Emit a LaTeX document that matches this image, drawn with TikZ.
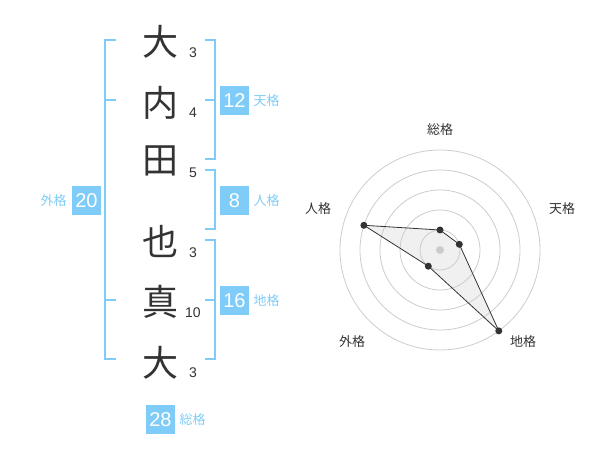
\documentclass[tikz,border=0pt]{standalone}
\usepackage{fontspec}
\setmainfont{Liberation Sans}
\newfontfamily\jp{Noto Sans CJK JP}
\definecolor{sky}{HTML}{80CCF8}
\definecolor{ink}{HTML}{333333}
\definecolor{ring}{HTML}{CCCCCC}
\definecolor{polyfill}{HTML}{F0F0F0}
\begin{document}
\begin{tikzpicture}[x=1pt,y=-1pt,
  kanji/.style={inner sep=0pt,text=ink,font=\jp\fontsize{36}{36}\selectfont},
  strokes/.style={inner sep=0pt,text=ink,font=\fontsize{14}{14}\selectfont},
  bracket/.style={draw=sky,line width=2pt},
  numbox/.style={fill=sky,text=white,minimum width=29pt,minimum height=29pt,inner sep=0pt,font=\fontsize{20}{20}\selectfont},
  kakulabel/.style={inner sep=0pt,text=sky,font=\jp\fontsize{13}{13}\selectfont},
  axislabel/.style={inner sep=0pt,text=ink,font=\jp\fontsize{13}{13}\selectfont},
  ringline/.style={draw=ring,line width=0.8pt},
  dot/.style={circle,fill=ink,minimum size=7pt,inner sep=0pt},
  polyline/.style={draw=ink,line width=0.8pt,line join=round}]
\useasboundingbox (0,0) rectangle (600,470);

% name characters
\node[kanji] (c1) at (160,42) {大};
\node[kanji] (c2) at (160,103) {内};
\node[kanji] (c3) at (160,161) {田};
\node[kanji] (c4) at (160,241) {也};
\node[kanji] (c5) at (160,302) {真};
\node[kanji] (c6) at (160,363) {大};

% stroke counts
\node[strokes] (s1) at (193,53) {3};
\node[strokes] (s2) at (193,113) {4};
\node[strokes] (s3) at (193,173) {5};
\node[strokes] (s4) at (193,253) {3};
\node[strokes] (s5) at (193,313) {10};
\node[strokes] (s6) at (193,373) {3};

% 外格 bracket
\draw[bracket] (116,40) -- (105,40) -- (105,359) -- (116,359);
\draw[bracket] (105,100) -- (116,100);
\draw[bracket] (105,300) -- (116,300);
% 天格 bracket
\draw[bracket] (205,40) -- (214.5,40) -- (214.5,159.5) -- (205,159.5);
\draw[bracket] (214.5,100) -- (205,100);
% 人格 bracket
\draw[bracket] (205,170) -- (214.5,170) -- (214.5,229.5) -- (205,229.5);
% 地格 bracket
\draw[bracket] (205,240) -- (214.5,240) -- (214.5,359) -- (205,359);
\draw[bracket] (214.5,300) -- (205,300);

% value boxes and labels
\node[numbox] (b20) at (86.5,200.5) {20};
\node[kakulabel] (l20) at (53.5,201) {外格};
\node[numbox] (b12) at (234.5,100.5) {12};
\node[kakulabel] (l12) at (266.5,101) {天格};
\node[numbox] (b8) at (234.5,200.5) {8};
\node[kakulabel] (l8) at (266.5,201) {人格};
\node[numbox] (b16) at (234.5,300.5) {16};
\node[kakulabel] (l16) at (266.5,301) {地格};
\node[numbox] (b28) at (160.5,419.5) {28};
\node[kakulabel] (l28) at (192.5,420) {総格};

% radar chart
\coordinate (ctr) at (440,250);
\coordinate (q1) at (440,230);
\coordinate (q2) at (459.3,244.3);
\coordinate (q3) at (498.8,330.9);
\coordinate (q4) at (428.3,266.2);
\coordinate (q5) at (363.9,225.3);
\fill[polyfill] (q1) -- (q2) -- (q3) -- (q4) -- (q5) -- cycle;
\foreach \r in {20,40,60,80,100} \draw[ringline] (ctr) circle[radius=\r];
\fill[ring] (ctr) circle[radius=4];
\draw[polyline] (q1) -- (q2) -- (q3) -- (q4) -- (q5) -- cycle;
\node[dot] (d1) at (q1) {};
\node[dot] (d2) at (q2) {};
\node[dot] (d3) at (q3) {};
\node[dot] (d4) at (q4) {};
\node[dot] (d5) at (q5) {};

\node[axislabel] (a1) at (440,130) {総格};
\node[axislabel] (a2) at (562,209) {天格};
\node[axislabel] (a3) at (523,342) {地格};
\node[axislabel] (a4) at (352,342) {外格};
\node[axislabel] (a5) at (318,209) {人格};
\end{tikzpicture}
\end{document}
